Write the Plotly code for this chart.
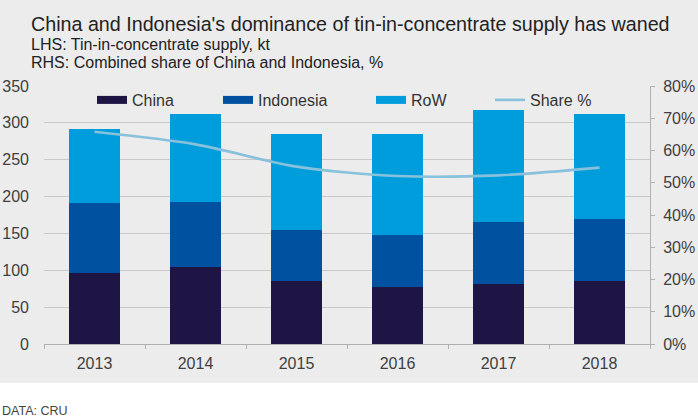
import plotly.graph_objects as go

years = ["2013", "2014", "2015", "2016", "2017", "2018"]
china = [96, 104, 85, 78, 82, 86]
indonesia = [95, 88, 70, 70, 84, 84]
row = [100, 120, 130, 137, 151, 142]
share = [65.8, 61.9, 55.0, 52.1, 52.3, 54.7]

left_ticks = [0, 50, 100, 150, 200, 250, 300, 350]
right_ticks = [0, 10, 20, 30, 40, 50, 60, 70, 80]
right_labels = [f"{v}%" for v in right_ticks]

C_CHINA = "#1e1545"
C_INDO = "#0052a0"
C_ROW = "#009ddc"
C_SHARE = "#88c1db"
BG = "#ececec"
GRID = "#c8c8c8"
TXT = "#333333"
FONT = "Liberation Sans, Arial, sans-serif"

fig = go.Figure()
for name, vals, col in [("China", china, C_CHINA), ("Indonesia", indonesia, C_INDO), ("RoW", row, C_ROW)]:
    fig.add_trace(go.Bar(x=years, y=vals, name=name, marker=dict(color=col, line=dict(width=0)),
                         showlegend=False, yaxis="y"))
fig.add_trace(go.Scatter(x=years, y=share, name="Share %", mode="lines",
                         line=dict(color=C_SHARE, width=2.6, shape="spline", smoothing=0.8),
                         yaxis="y2", showlegend=False))

# legend-only entries
legend_specs = [("China", C_CHINA, 8, "legend"), ("Indonesia", C_INDO, 8, "legend2"),
                ("RoW", C_ROW, 8, "legend3"), ("Share %", C_SHARE, 2.6, "legend4")]
for name, col, w, lg in legend_specs:
    fig.add_trace(go.Scatter(x=[None], y=[None], name=name, mode="lines",
                             line=dict(color=col, width=w), legend=lg, showlegend=True))

plot_l, plot_r, plot_t, plot_b = 44, 48, 86, 74
pw = 698 - plot_l - plot_r
ph = 418 - plot_t - plot_b

def px_x(p):
    return (p - plot_l) / pw

def px_y(p):
    return (418 - plot_b - p) / ph

leg_common = dict(orientation="h", xanchor="left", yanchor="middle", bgcolor="rgba(0,0,0,0)",
                  font=dict(family=FONT, size=16, color=TXT), itemwidth=30, borderwidth=0)
legs = {}
for key, sx in zip(["legend", "legend2", "legend3", "legend4"], [97, 223, 376, 495]):
    legs[key] = dict(x=px_x(sx - 5), y=px_y(100), **leg_common)

fig.update_layout(
    width=698, height=418,
    margin=dict(l=plot_l, r=plot_r, t=plot_t, b=plot_b, pad=0, autoexpand=False),
    paper_bgcolor="white", plot_bgcolor="rgba(0,0,0,0)",
    barmode="stack", bargap=0.5,
    font=dict(family=FONT, color=TXT),
    xaxis=dict(type="category", showgrid=False, showline=True, linecolor="#b0b0b0", linewidth=1,
               ticks="outside", tickson="boundaries", ticklen=4, tickcolor="#b0b0b0",
               tickfont=dict(size=16, color="#404040"), ticklabelstandoff=5, automargin=False),
    yaxis=dict(range=[0, 350], tickvals=left_ticks, showgrid=True, gridcolor=GRID, gridwidth=1,
               showline=False, zeroline=False, ticks="", tickfont=dict(size=16, color="#404040"),
               ticklabelstandoff=14, automargin=False),
    yaxis2=dict(range=[0, 80], tickvals=right_ticks, ticktext=right_labels, overlaying="y", side="right",
                showgrid=False, zeroline=False, showline=True, linecolor="#b0b0b0", linewidth=1,
                ticks="outside", ticklen=4, tickcolor="#b0b0b0",
                tickfont=dict(size=16, color="#404040"), ticklabelstandoff=5, automargin=False),
    shapes=[dict(type="rect", xref="paper", yref="paper", x0=px_x(0), x1=px_x(698),
                 y0=px_y(383), y1=px_y(0), fillcolor=BG, line=dict(width=0), layer="below")],
    annotations=[
        dict(text="China and Indonesia's dominance of tin-in-concentrate supply has waned", xref="paper", yref="paper",
             x=px_x(29), y=px_y(24), xanchor="left", yanchor="middle", showarrow=False,
             font=dict(size=19.7, color="#222222", family=FONT)),
        dict(text="LHS: Tin-in-concentrate supply, kt", xref="paper", yref="paper",
             x=px_x(29), y=px_y(44.5), xanchor="left", yanchor="middle", showarrow=False,
             font=dict(size=16, color="#222222", family=FONT)),
        dict(text="RHS: Combined share of China and Indonesia, %", xref="paper", yref="paper",
             x=px_x(29), y=px_y(62.5), xanchor="left", yanchor="middle", showarrow=False,
             font=dict(size=16, color="#222222", family=FONT)),
        dict(text="DATA: CRU", xref="paper", yref="paper",
             x=px_x(0), y=px_y(411), xanchor="left", yanchor="middle", showarrow=False,
             font=dict(size=12.5, color="#444444", family=FONT)),
    ],
    **legs,
)

fig.write_html("out.html", config={"displayModeBar": False},
               post_script="document.body.style.margin='0';document.body.style.overflow='hidden';")
